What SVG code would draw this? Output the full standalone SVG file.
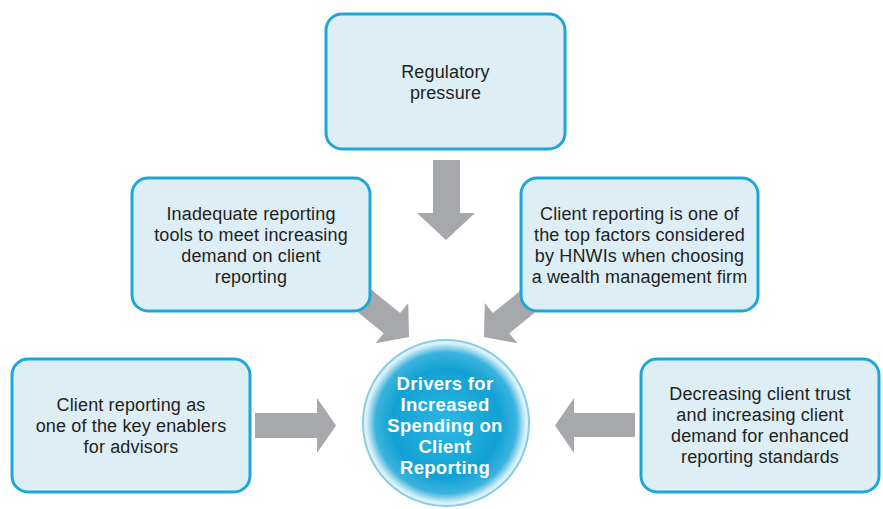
<svg xmlns="http://www.w3.org/2000/svg" width="883" height="509" viewBox="0 0 883 509">
  <style>
    .box { fill: #ddeef6; stroke: #1da7d7; stroke-width: 3; }
    .lbl { font-family: "Liberation Sans", Arial, sans-serif; font-size: 18px; letter-spacing: 0.15px; fill: #231f20; text-anchor: middle; }
    .hub { font-family: "Liberation Sans", Arial, sans-serif; font-size: 18.5px; letter-spacing: 0.3px; font-weight: bold; fill: #ffffff; text-anchor: middle; }
    .arr { fill: #a7a8ab; }
  </style>
  <defs>
    <radialGradient id="hubGrad" cx="0.5" cy="0.5" r="0.5">
      <stop offset="0" stop-color="#2bb8e4"/>
      <stop offset="0.65" stop-color="#12a1d3"/>
      <stop offset="0.85" stop-color="#3bb3de"/>
      <stop offset="0.96" stop-color="#d8f0f8"/>
      <stop offset="1" stop-color="#e6f5fa"/>
    </radialGradient>
  </defs>
  <rect width="883" height="509" fill="#ffffff"/>

  <g id="connectors">
    <polygon class="arr" points="433,160 460,160 460,213 475,213 446,240 417,213 433,213"/>
    <polygon class="arr" points="255,413 317,413 317,398 336,425.5 317,453 317,438 255,438"/>
    <polygon class="arr" points="635,413 574,413 574,398 555,425.5 574,453 574,437 635,437"/>
    <polygon class="arr" transform="translate(409,337) rotate(39)" points="-90,-13 -22,-13 -22,-26 0,0 -22,26 -22,13 -90,13"/>
    <polygon class="arr" transform="translate(484,337) rotate(141)" points="-90,-13 -22,-13 -22,-26 0,0 -22,26 -22,13 -90,13"/>
  </g>

  <g id="regulatory">
    <rect class="box" x="326" y="14" width="239" height="135" rx="16"/>
    <text class="lbl" x="445.5" y="78">Regulatory</text>
    <text class="lbl" x="445.5" y="99">pressure</text>
  </g>

  <g id="inadequate">
    <rect class="box" x="132" y="178" width="238" height="133" rx="16"/>
    <text class="lbl" x="251" y="220">Inadequate reporting</text>
    <text class="lbl" x="251" y="241">tools to meet increasing</text>
    <text class="lbl" x="251" y="262">demand on client</text>
    <text class="lbl" x="251" y="283">reporting</text>
  </g>

  <g id="topfactors">
    <rect class="box" x="521" y="178" width="237" height="133" rx="16"/>
    <text class="lbl" x="639.5" y="220">Client reporting is one of</text>
    <text class="lbl" x="639.5" y="241">the top factors considered</text>
    <text class="lbl" x="639.5" y="262">by HNWIs when choosing</text>
    <text class="lbl" x="639.5" y="283">a wealth management firm</text>
  </g>

  <g id="enablers">
    <rect class="box" x="12" y="359" width="238" height="133" rx="16"/>
    <text class="lbl" x="131" y="411">Client reporting as</text>
    <text class="lbl" x="131" y="432">one of the key enablers</text>
    <text class="lbl" x="131" y="453">for advisors</text>
  </g>

  <g id="trust">
    <rect class="box" x="641" y="359" width="238" height="133" rx="16"/>
    <text class="lbl" x="760" y="400">Decreasing client trust</text>
    <text class="lbl" x="760" y="421">and increasing client</text>
    <text class="lbl" x="760" y="442">demand for enhanced</text>
    <text class="lbl" x="760" y="463">reporting standards</text>
  </g>

  <g id="hub">
    <circle cx="446" cy="423" r="83" fill="url(#hubGrad)" stroke="#86cde6" stroke-width="2"/>
    <text class="hub" x="445" y="390">Drivers for</text>
    <text class="hub" x="445" y="411">Increased</text>
    <text class="hub" x="445" y="432">Spending on</text>
    <text class="hub" x="445" y="453">Client</text>
    <text class="hub" x="445" y="474">Reporting</text>
  </g>
</svg>
